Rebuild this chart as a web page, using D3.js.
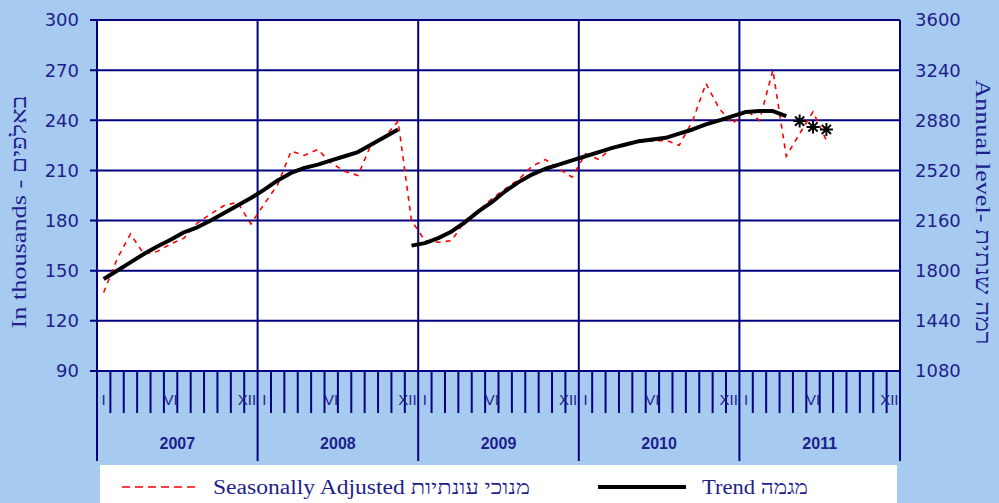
<!DOCTYPE html>
<html><head><meta charset="utf-8">
<script src="https://cdn.jsdelivr.net/npm/d3@7"></script>
<style>html,body{margin:0;padding:0;background:#A6CAF0;} svg{display:block}</style>
</head><body><svg id="c" width="999" height="503"></svg>
<script>
// ---- data ----
const years = ["2007", "2008", "2009", "2010", "2011"];
const monthNames = ["I", "", "", "", "", "VI", "", "", "", "", "", "XII"];
const leftTicks = [90, 120, 150, 180, 210, 240, 270, 300];
const rightTicks = [1080, 1440, 1800, 2160, 2520, 2880, 3240, 3600];
// Seasonally adjusted, Jan 2007 - Jul 2011 (thousands)
const seasonal = [
  137, 157, 172, 160, 161.5, 166, 169.5, 178.5, 184, 189, 191, 178,
  190, 201.5, 221.5, 219, 222.5, 214.5, 209.5, 207, 226, 230, 239.5, 180,
  168, 167, 168, 180, 186, 193, 199, 204.5, 212.5, 216.5, 211, 206,
  220, 216.5, 224, 226, 228, 227.5, 228, 225, 239.5, 262, 247, 238,
  246, 240, 270, 218.5, 232, 245, 228
];
// Trend, Jan 2007 - Nov 2008
const trendA = [
  145, 150, 155, 160, 164.5, 168.5, 173, 176, 180, 184.5, 189, 193.5,
  198.5, 204, 208.5, 211.5, 213.5, 216, 218.5, 221, 225.5, 230, 234.5
];
// Trend, Dec 2008 - Apr 2011
const trendB = [
  165,
  166.5, 169.5, 173.5, 179, 185.5, 191, 197.5, 203, 207.5, 211, 213.5, 216,
  218.5, 221, 223.5, 225.5, 227.5, 228.5, 229.5, 232, 234.5, 237.5, 240, 242.5,
  245, 245.5, 245.5, 242.5
];
// Trend estimates (stars), May - Jul 2011
const trendEst = [239.5, 236, 234.5];
const trendAStart = 0, trendBStart = 23, trendEstStart = 52;

const leftTitle = "In thousands - באלפים";
const rightTitle = "Annual level- רמה שנתית";
const legendSA = "Seasonally Adjusted מנוכי עונתיות";
const legendTrend = "Trend מגמה";

// ---- layout ----
const W = 999, H = 503;
const L = 97, R = 900, T = 20, B = 371;
const NAVY = "#000080", TXT = "#1e1e8c";
const svg = d3.select("#c");

const nMonths = years.length * 12;
const x = d3.scaleBand().domain(d3.range(nMonths)).range([L, R]).paddingInner(0).paddingOuter(0);
const xc = i => x(i) + x.bandwidth() / 2;
const y = d3.scaleLinear().domain([90, 300]).range([B, T]);
const y2 = d3.scaleLinear().domain([1080, 3600]).range([B, T]);

svg.append("rect").attr("width", W).attr("height", H).attr("fill", "#A6CAF0");
svg.append("rect").attr("x", L).attr("y", T).attr("width", R - L).attr("height", B - T).attr("fill", "#fff");

// horizontal grid + left ticks
svg.append("g").selectAll("line").data(leftTicks).join("line")
  .attr("x1", L - 7).attr("x2", R).attr("y1", d => y(d)).attr("y2", d => y(d))
  .attr("stroke", NAVY).attr("stroke-width", 2);

// left labels
svg.append("g").selectAll("text").data(leftTicks).join("text")
  .attr("x", 79).attr("y", d => y(d)).attr("dy", "0.36em").attr("text-anchor", "end")
  .attr("font-family", "DejaVu Sans").attr("font-size", 18).attr("fill", TXT).text(d => d);

// right labels
svg.append("g").selectAll("text").data(rightTicks).join("text")
  .attr("x", 915).attr("y", d => y2(d)).attr("dy", "0.36em").attr("text-anchor", "start")
  .attr("font-family", "DejaVu Sans").attr("font-size", 18).attr("fill", TXT).text(d => d);

// month ticks
const monthTicks = d3.range(1, nMonths).filter(i => i % 12 !== 0);
svg.append("g").selectAll("line").data(monthTicks).join("line")
  .attr("x1", d => x(d)).attr("x2", d => x(d)).attr("y1", B).attr("y2", 413)
  .attr("stroke", NAVY).attr("stroke-width", 2);

// year boundaries
const yearBounds = d3.range(0, years.length + 1).map(k => k < years.length ? x(k * 12) : R);
svg.append("g").selectAll("line").data(yearBounds).join("line")
  .attr("x1", d => d).attr("x2", d => d).attr("y1", T).attr("y2", 461)
  .attr("stroke", NAVY).attr("stroke-width", 2);

// month labels
const monthLabelData = d3.range(nMonths).filter(i => monthNames[i % 12] !== "");
svg.append("g").selectAll("text").data(monthLabelData).join("text")
  .attr("x", d => xc(d) - (monthNames[d % 12] === "XII" ? 4 : 0)).attr("y", 400).attr("dy", "0.36em").attr("text-anchor", "middle")
  .attr("font-family", "Liberation Sans").attr("font-size", 15).attr("fill", TXT)
  .text(d => monthNames[d % 12]);

// year labels
svg.append("g").selectAll("text").data(years).join("text")
  .attr("x", (d, k) => (x(k * 12) + (k + 1 < years.length ? x((k + 1) * 12) : R)) / 2)
  .attr("y", 443).attr("dy", "0.36em").attr("text-anchor", "middle")
  .attr("font-family", "Liberation Sans").attr("font-weight", "bold").attr("font-size", 16).attr("fill", TXT)
  .text(d => d);

// axis titles
svg.append("text").attr("transform", "translate(26,212) rotate(-90)")
  .attr("text-anchor", "middle").attr("font-family", "Liberation Serif").attr("font-size", 21)
  .attr("fill", TXT).attr("textLength", 233).attr("lengthAdjust", "spacingAndGlyphs").text(leftTitle);
svg.append("text").attr("transform", "translate(976,212) rotate(90)")
  .attr("text-anchor", "middle").attr("font-family", "Liberation Serif").attr("font-size", 21)
  .attr("fill", TXT).attr("textLength", 265).attr("lengthAdjust", "spacingAndGlyphs").text(rightTitle);

// series
const line = d3.line().x(d => xc(d[0])).y(d => y(d[1]));
svg.append("path").datum(seasonal.map((v, i) => [i, v]))
  .attr("d", line).attr("fill", "none").attr("stroke", "#ff0000").attr("stroke-width", 1.6)
  .attr("stroke-dasharray", "5,5");
[[trendA, trendAStart], [trendB, trendBStart]].forEach(([arr, s]) => {
  svg.append("path").datum(arr.map((v, i) => [s + i, v]))
    .attr("d", line).attr("fill", "none").attr("stroke", "#000").attr("stroke-width", 4)
    .attr("stroke-linejoin", "round");
});
// star markers
const starPath = (cx, cy, r) => {
  let p = "";
  [0, 45, 90, 135].forEach(a => {
    const rad = a * Math.PI / 180, dx = r * Math.cos(rad), dy = r * Math.sin(rad);
    p += `M${cx - dx},${cy - dy}L${cx + dx},${cy + dy}`;
  });
  return p;
};
svg.append("g").selectAll("path").data(trendEst).join("path")
  .attr("d", (d, i) => starPath(xc(trendEstStart + i), y(d), 6.5))
  .attr("stroke", "#000").attr("stroke-width", 2).attr("fill", "none");

// legend
svg.append("rect").attr("x", 100).attr("y", 465).attr("width", 797).attr("height", 45).attr("fill", "#fff");
svg.append("line").attr("x1", 122).attr("x2", 200).attr("y1", 487).attr("y2", 487)
  .attr("stroke", "#ff0000").attr("stroke-width", 1.6).attr("stroke-dasharray", "8,5");
svg.append("text").attr("x", 213).attr("y", 487).attr("dy", "0.35em")
  .attr("font-family", "Liberation Serif").attr("font-size", 20).attr("fill", TXT)
  .attr("textLength", 317).attr("lengthAdjust", "spacingAndGlyphs").text(legendSA);
svg.append("line").attr("x1", 598).attr("x2", 686).attr("y1", 487).attr("y2", 487)
  .attr("stroke", "#000").attr("stroke-width", 4);
svg.append("text").attr("x", 702).attr("y", 487).attr("dy", "0.35em")
  .attr("font-family", "Liberation Serif").attr("font-size", 20).attr("fill", TXT)
  .attr("textLength", 106).attr("lengthAdjust", "spacingAndGlyphs").text(legendTrend);
</script></body></html>
